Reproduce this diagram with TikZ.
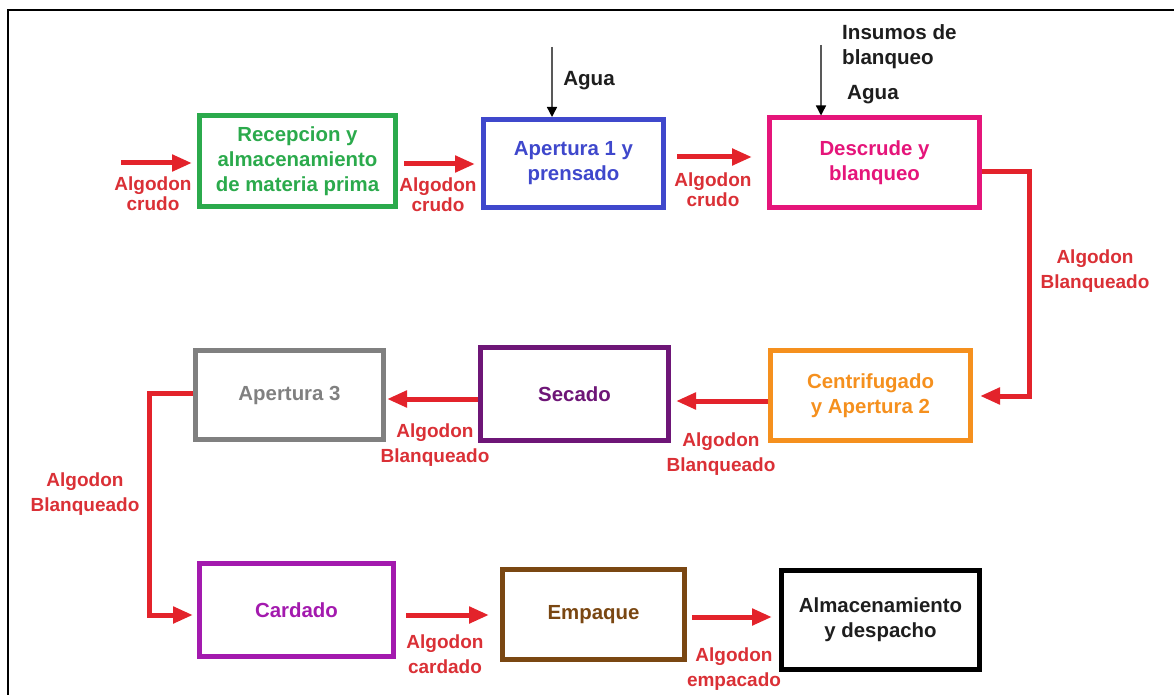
\documentclass[tikz,border=0pt]{standalone}
\usepackage{fontspec}
\setmainfont{Liberation Sans}
\usetikzlibrary{arrows.meta}

\definecolor{cgreen}{HTML}{2BAA4C}
\definecolor{cblue}{HTML}{3F48CC}
\definecolor{cpink}{HTML}{E5157A}
\definecolor{corange}{HTML}{F5901E}
\definecolor{cpurple}{HTML}{6E1677}
\definecolor{cgray}{HTML}{808080}
\definecolor{cviolet}{HTML}{A31AAE}
\definecolor{cbrown}{HTML}{7A4712}
\definecolor{cred}{HTML}{E3232B}
\definecolor{ctext}{HTML}{DA3036}
\definecolor{cdark}{HTML}{1E1E1E}

\begin{document}
\begin{tikzpicture}[x=1pt,y=-1pt,
  stagebox/.style={draw, line width=5pt, inner sep=0pt, align=center,
    font=\bfseries\fontsize{20.4}{25}\selectfont},
  flowlabel/.style={text=ctext, align=center, inner sep=0pt,
    font=\bfseries\fontsize{19}{25}\selectfont},
  toplabel/.style={flowlabel, font=\bfseries\fontsize{19}{20}\selectfont},
  inputlabel/.style={text=cdark, align=left, inner sep=0pt,
    font=\bfseries\fontsize{20.6}{25}\selectfont},
  flow/.style={draw=cred, line width=5pt, line join=miter,
    -{Triangle[length=20pt,width=16pt]}},
  feed/.style={draw=black!65, line width=1.4pt,
    -{Triangle[length=10pt,width=10pt,color=black]}}]

\useasboundingbox (0,0) rectangle (1174,695);

% page frame
\draw[line width=2.2pt] (8,700) -- (8,10) -- (1180,10);

% process stages
\node[stagebox, draw=cgreen, text=cgreen, minimum width=196pt, minimum height=91pt]
  (rec) at (297.5,161) {Recepcion y\\almacenamiento\\de materia prima};
\node[stagebox, draw=cblue, text=cblue, minimum width=180pt, minimum height=88pt]
  (ap1) at (573.5,163.5) {Apertura 1 y\\prensado};
\node[stagebox, draw=cpink, text=cpink, minimum width=210pt, minimum height=89pt]
  (des) at (874.5,162.5) {Descrude y\\blanqueo};
\node[stagebox, draw=corange, text=corange, minimum width=200pt, minimum height=90pt]
  (cen) at (870.5,395.5) {Centrifugado\\y Apertura 2};
\node[stagebox, draw=cpurple, text=cpurple, minimum width=188pt, minimum height=93pt]
  (sec) at (574.5,394) {Secado};
\node[stagebox, draw=cgray, text=cgray, minimum width=188pt, minimum height=89pt]
  (ap3) at (289.5,395) {Apertura 3};
\node[stagebox, draw=cviolet, text=cviolet, minimum width=194pt, minimum height=93pt]
  (car) at (296.5,610) {Cardado};
\node[stagebox, draw=cbrown, text=cbrown, minimum width=182pt, minimum height=90pt]
  (emp) at (593.5,614.5) {Empaque};
\node[stagebox, draw=black, text=cdark, minimum width=198pt, minimum height=99pt]
  (alm) at (880.5,620) {Almacenamiento\\y despacho};

% free ends of the feed lines
\coordinate (rawin) at (121,163);
\coordinate (aguaA) at (552,47);
\coordinate (aguaB) at (821,45);

% material flow
\draw[flow, shorten >=5pt] (rawin) -- (rec.west |- 0,163);
\draw[flow, shorten <=6pt, shorten >=6pt] (rec.east |- 0,164) -- (ap1.west |- 0,164);
\draw[flow, shorten <=11pt, shorten >=15pt] (ap1.east |- 0,157) -- (des.west |- 0,157);
\draw[flow, shorten >=7pt] (des.east |- 0,172) -- (1029,172) |- (cen.east |- 0,396);
\draw[flow, shorten >=5pt] (cen.west |- 0,401) -- (sec.east |- 0,401);
\draw[flow, shorten >=1pt] (sec.west |- 0,399) -- (ap3.east |- 0,399);
\draw[flow, shorten >=4pt] (ap3.west |- 0,393) -- (149,393) |- (car.west |- 0,615);
\draw[flow, shorten <=10pt, shorten >=11pt] (car.east |- 0,615) -- (emp.west |- 0,615);
\draw[flow, shorten <=5pt, shorten >=7pt] (emp.east |- 0,617) -- (alm.west |- 0,617);

% water and bleaching inputs
\draw[feed] (aguaA) -- (ap1.north -| aguaA);
\draw[feed] (aguaB) -- (des.north -| aguaB);

% flow labels
\node[toplabel] (l1) at (153,194) {Algodon\\crudo};
\node[toplabel] (l2) at (438,195) {Algodon\\crudo};
\node[toplabel] (l3) at (713,190) {Algodon\\crudo};
\node[flowlabel] (l4) at (1095,271) {Algodon\\Blanqueado};
\node[flowlabel] (l5) at (721,454) {Algodon\\Blanqueado};
\node[flowlabel] (l6) at (435,445) {Algodon\\Blanqueado};
\node[flowlabel] (l7) at (85,494) {Algodon\\Blanqueado};
\node[flowlabel] (l8) at (445,654) {Algodon\\cardado};
\node[flowlabel] (l9) at (734,669) {Algodon\\empacado};

% input labels
\node[inputlabel] (agua1) at (589,81) {Agua};
\node[inputlabel, anchor=north west] (insumos) at (842,24) {Insumos de\\blanqueo};
\node[inputlabel, anchor=west] (agua2) at (847,95) {Agua};
\end{tikzpicture}
\end{document}
